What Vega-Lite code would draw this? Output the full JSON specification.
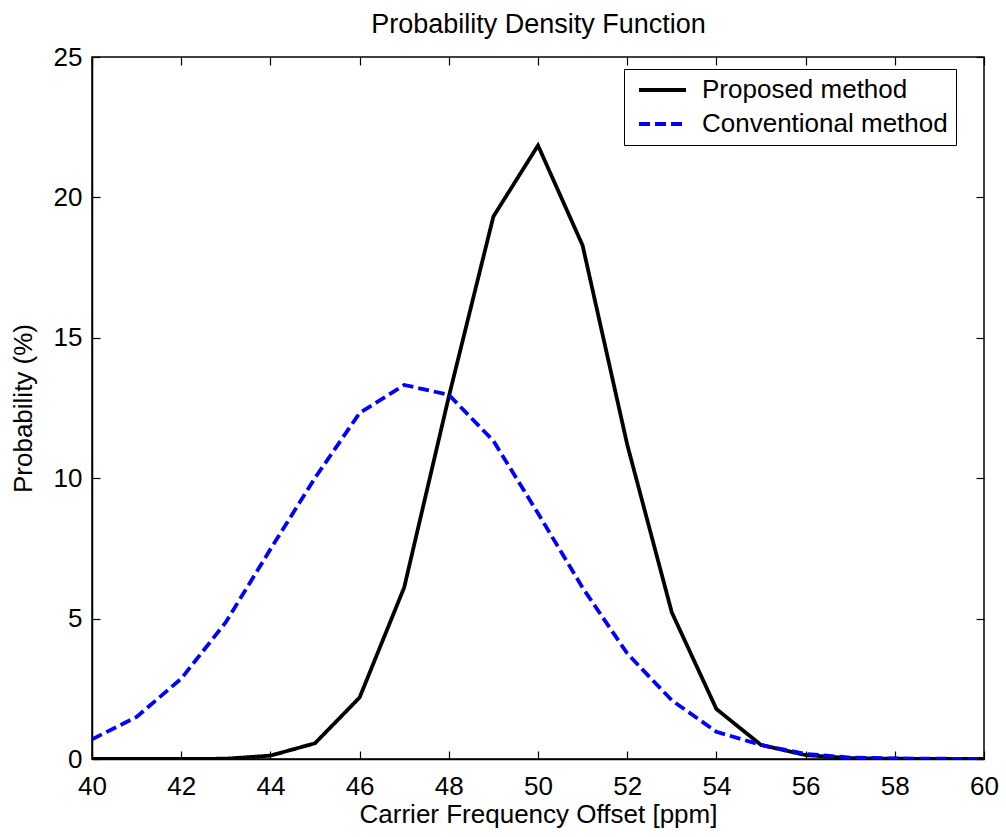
{
  "$schema": "https://vega.github.io/schema/vega-lite/v6.json",
  "autosize": "none",
  "width": 892,
  "height": 702,
  "padding": {"left": 92, "top": 57, "right": 22, "bottom": 78},
  "background": "white",
  "config": {
    "view": {"stroke": "black", "strokeWidth": 1.5},
    "font": "Liberation Sans",
    "axis": {"grid": false, "domainColor": "black", "domainWidth": 1.5, "tickColor": "black", "tickWidth": 1.2, "labelColor": "black", "titleColor": "black", "labelFont": "Liberation Sans", "titleFont": "Liberation Sans", "labelFontSize": 26, "titleFontSize": 26, "titleFontWeight": "normal"}
  },
  "data": {"values": [
    {"x": 40, "p": 0, "series": "Proposed method"},
    {"x": 41, "p": 0, "series": "Proposed method"},
    {"x": 42, "p": 0, "series": "Proposed method"},
    {"x": 43, "p": 0.01, "series": "Proposed method"},
    {"x": 44, "p": 0.12, "series": "Proposed method"},
    {"x": 45, "p": 0.56, "series": "Proposed method"},
    {"x": 46, "p": 2.19, "series": "Proposed method"},
    {"x": 47, "p": 6.11, "series": "Proposed method"},
    {"x": 48, "p": 12.9, "series": "Proposed method"},
    {"x": 49, "p": 19.32, "series": "Proposed method"},
    {"x": 50, "p": 21.85, "series": "Proposed method"},
    {"x": 51, "p": 18.29, "series": "Proposed method"},
    {"x": 52, "p": 11.2, "series": "Proposed method"},
    {"x": 53, "p": 5.22, "series": "Proposed method"},
    {"x": 54, "p": 1.78, "series": "Proposed method"},
    {"x": 55, "p": 0.5, "series": "Proposed method"},
    {"x": 56, "p": 0.14, "series": "Proposed method"},
    {"x": 57, "p": 0.03, "series": "Proposed method"},
    {"x": 58, "p": 0.01, "series": "Proposed method"},
    {"x": 59, "p": 0, "series": "Proposed method"},
    {"x": 60, "p": 0, "series": "Proposed method"},
    {"x": 40, "p": 0.7, "series": "Conventional method"},
    {"x": 41, "p": 1.5, "series": "Conventional method"},
    {"x": 42, "p": 2.86, "series": "Conventional method"},
    {"x": 43, "p": 4.87, "series": "Conventional method"},
    {"x": 44, "p": 7.47, "series": "Conventional method"},
    {"x": 45, "p": 10.01, "series": "Conventional method"},
    {"x": 46, "p": 12.32, "series": "Conventional method"},
    {"x": 47, "p": 13.32, "series": "Conventional method"},
    {"x": 48, "p": 12.97, "series": "Conventional method"},
    {"x": 49, "p": 11.33, "series": "Conventional method"},
    {"x": 50, "p": 8.75, "series": "Conventional method"},
    {"x": 51, "p": 6.1, "series": "Conventional method"},
    {"x": 52, "p": 3.76, "series": "Conventional method"},
    {"x": 53, "p": 2.09, "series": "Conventional method"},
    {"x": 54, "p": 0.97, "series": "Conventional method"},
    {"x": 55, "p": 0.5, "series": "Conventional method"},
    {"x": 56, "p": 0.18, "series": "Conventional method"},
    {"x": 57, "p": 0.05, "series": "Conventional method"},
    {"x": 58, "p": 0.02, "series": "Conventional method"},
    {"x": 59, "p": 0.01, "series": "Conventional method"},
    {"x": 60, "p": 0, "series": "Conventional method"}
  ]},
  "layer": [
    {
      "mark": {"type": "line", "strokeWidth": 0, "opacity": 0},
      "encoding": {
        "x": {"field": "x", "type": "quantitative", "scale": {"domain": [40, 60], "nice": false, "zero": false},
              "axis": {"orient": "top", "values": [40,42,44,46,48,50,52,54,56,58,60], "labels": false, "title": "Probability Density Function", "titleFontSize": 27, "titlePadding": 18, "tickSize": -8, "domain": false}},
        "y": {"field": "p", "type": "quantitative", "scale": {"domain": [0, 25], "nice": false},
              "axis": {"orient": "right", "values": [0,5,10,15,20,25], "labels": false, "title": null, "tickSize": -8, "domain": false}},
        "detail": {"field": "series"}
      }
    },
    {
      "mark": {"type": "line", "strokeWidth": 3.8, "clip": true},
      "encoding": {
        "x": {"field": "x", "type": "quantitative", "scale": {"domain": [40, 60], "nice": false, "zero": false},
              "axis": {"orient": "bottom", "values": [40,42,44,46,48,50,52,54,56,58,60], "tickSize": -8, "labelPadding": 22, "title": "Carrier Frequency Offset [ppm]", "titlePadding": 2, "labelFlush": false}},
        "y": {"field": "p", "type": "quantitative", "scale": {"domain": [0, 25], "nice": false},
              "axis": {"orient": "left", "values": [0,5,10,15,20,25], "tickSize": -8, "labelPadding": 18, "title": "Probability (%)", "titlePadding": 17, "labelFlush": false}},
        "color": {"field": "series", "type": "nominal", "sort": ["Proposed method", "Conventional method"],
                  "scale": {"domain": ["Proposed method", "Conventional method"], "range": ["#000000", "#0000ff"]},
                  "legend": {"title": null, "orient": "none", "legendX": 532, "legendY": 12, "strokeColor": "black", "fillColor": "white", "padding": 8, "symbolOffset": 17.5, "symbolType": "M-3,0H3", "symbolSize": 245, "symbolStrokeWidth": 3.8, "labelFontSize": 26, "labelFont": "Liberation Sans", "labelColor": "black", "labelOffset": 26.5, "labelLimit": 500, "rowPadding": 8}},
        "strokeDash": {"field": "series", "type": "nominal", "sort": ["Proposed method", "Conventional method"],
                  "scale": {"domain": ["Proposed method", "Conventional method"], "range": [[1, 0], [11, 5]]}}
      }
    }
  ],
  "resolve": {"axis": {"x": "independent", "y": "independent"}}
}
